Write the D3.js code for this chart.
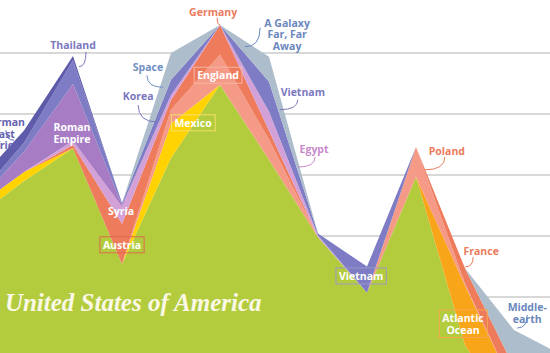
<!DOCTYPE html>
<html>
<head>
<meta charset="utf-8">
<script src="https://cdn.jsdelivr.net/npm/d3@7"></script>
<style>
  html, body { margin: 0; padding: 0; background: #fff; }
  svg { display: block; }
  .lbl { font-family: "Open Sans", sans-serif; font-weight: 700; font-size: 10.5px; }
</style>
</head>
<body>
<div id="chart"></div>
<script>
// sample points along the x axis (evenly spaced)
const steps = d3.range(13);

// layer values, bottom to top
const usa        = [33.0, 39.0, 44.4, 25.4, 42.8, 54.8, 42.5, 29.8, 20.7, 39.7, 12.1, 0, 0];
const mexico     = [1.6, 1.5, 0, 0, 5.6, 0, 0, 0, 0, 0, 0, 0, 0];
const atlantic   = [0, 0, 0, 0, 0, 0, 0, 0, 0, 0, 9.8, 4.9, 0];
const england    = [0, 0, 0, 0, 2.3, 4.9, 3.3, 0, 0, 4.9, 0.3, 0, 0];
const germany    = [0, 0, 0.5, 6.6, 1.6, 4.9, 1.5, 0, 0, 0, 2.5, 3.6, 1.5];
const egypt      = [0, 0, 0.7, 2.8, 0.8, 0, 3.1, 0.3, 0, 0, 0, 0, 0];
const roman      = [0.5, 3.3, 9.3, 0.3, 0, 0, 0, 0, 0, 0, 0, 0, 0];
const asia       = [0.8, 1.5, 3.9, 0.3, 2.5, 0, 4.9, 0.3, 4.3, 0, 0, 0, 0];
const eastAfrica = [2.5, 2.0, 0.7, 0, 0, 0, 0, 0, 0, 0, 0, 0, 0];
const fiction    = [0, 0, 0, 0, 4.4, 0, 4.1, 0, 0, 0, 0, 6.1, 8.9];

const layerKeys = ["usa", "mexico", "atlantic", "england", "germany", "egypt", "roman", "asia", "eastAfrica", "fiction"];
const layerColors = ["#b3cc3e", "#ffd200", "#f9a51a", "#f59a87", "#ee7b5b", "#d3a1d7", "#a77cc4", "#7d7cc4", "#5d5baa", "#adbdcb"];

const gridValues = [10, 20, 30, 40, 50, 60];

// annotations: text lines, x step, value, colour, optional box / leader
const labels = [
  { lines: ["Thailand"], x: 2.0, v: 60.7, color: "#7b78bf", leader: [13, 3, 6, 18] },
  { lines: ["German", "East", "Africa"], x: 0.59, v: 48.0, color: "#6462b0", leader: [2, 4, 10, 14] },
  { lines: ["Roman", "Empire"], x: 1.98, v: 47.2, color: "#ffffff" },
  { lines: ["Syria"], x: 2.98, v: 33.4, color: "#ffffff" },
  { lines: ["Austria"], x: 3.0, v: 27.9, color: "#ffffff", box: "#dc6a4c" },
  { lines: ["Space"], x: 3.53, v: 57.0, color: "#6f8fc2", leader: [-1, 4, 15, 16] },
  { lines: ["Korea"], x: 3.33, v: 52.3, color: "#7b78bf", leader: [0, 5, 19, 22] },
  { lines: ["Mexico"], x: 4.45, v: 47.9, color: "#ffffff", box: "#f6df6a" },
  { lines: ["England"], x: 4.96, v: 55.7, color: "#ffffff", box: "#f8b5a6" },
  { lines: ["Germany"], x: 4.86, v: 66.1, color: "#ec7a5c", leader: [4, 2, 7, 9] },
  { lines: ["A Galaxy", "Far, Far", "Away"], x: 6.37, v: 64.3, color: "#6b87bd", leader: [-27, 1, -42, 20] },
  { lines: ["Vietnam"], x: 6.69, v: 53.0, color: "#7b78bf", leader: [-5, 4, -23, 14] },
  { lines: ["Egypt"], x: 6.92, v: 43.6, color: "#c98ac9", leader: [1, 4, -16, 14] },
  { lines: ["Vietnam"], x: 7.88, v: 22.8, color: "#ffffff", box: "#9b99c4" },
  { lines: ["Poland"], x: 9.63, v: 43.3, color: "#ec7a5c", leader: [-2, 2, -22, 15] },
  { lines: ["France"], x: 10.33, v: 26.9, color: "#ec7a5c", leader: [-8, 2, -16, 12] },
  { lines: ["Atlantic", "Ocean"], x: 9.96, v: 15.9, color: "#ffffff", box: "#f6a84a" },
  { lines: ["Middle-", "earth"], x: 11.27, v: 17.7, color: "#6b87bd", leader: [0, 4, -10, 17] }
];
const bigLabel = { text: "United States of America", x: 0.61, v: 17.7 };

const width = 550, height = 353;

const svg = d3.select("#chart").append("svg")
  .attr("width", width)
  .attr("height", height);

const x = d3.scaleLinear().domain([0, 12]).range([-25, 563]);
const y = d3.scaleLinear().domain([0, 60]).range([419, 53]);

// 1. grid lines
svg.append("g").selectAll("line")
  .data(gridValues)
  .join("line")
  .attr("x1", 0).attr("x2", width)
  .attr("y1", d => y(d)).attr("y2", d => y(d))
  .attr("stroke", "#d8d8d8")
  .attr("stroke-width", 2);

// 2. stacked layers
const cols = [usa, mexico, atlantic, england, germany, egypt, roman, asia, eastAfrica, fiction];
const table = steps.map((s, i) => {
  const row = { step: s };
  layerKeys.forEach((k, j) => row[k] = cols[j][i]);
  return row;
});
const series = d3.stack().keys(layerKeys)(table);

const area = d3.area()
  .x(d => x(d.data.step))
  .y0(d => y(d[0]))
  .y1(d => y(d[1]));

svg.append("g").selectAll("path")
  .data(series)
  .join("path")
  .attr("fill", (d, i) => layerColors[i])
  .attr("d", area);

// 3. big label
svg.append("text")
  .attr("x", x(bigLabel.x))
  .attr("y", y(bigLabel.v))
  .attr("font-family", "'Liberation Serif', serif")
  .attr("font-style", "italic")
  .attr("font-weight", 700)
  .attr("font-size", 25)
  .attr("fill", "#fbf8e6")
  .text(bigLabel.text);

// 4. annotations
const lineH = 11.5;
const g = svg.append("g");
labels.forEach(l => {
  const cx = x(l.x), cy = y(l.v);
  const t = g.append("text")
    .attr("class", "lbl")
    .attr("text-anchor", "middle")
    .attr("fill", l.color);
  l.lines.forEach((s, i) => {
    t.append("tspan").attr("x", cx).attr("y", cy + i * lineH).text(s);
  });
  if (l.box) {
    const bb = t.node().getBBox();
    g.insert("rect", () => t.node())
      .attr("x", bb.x - 3).attr("y", bb.y - 1)
      .attr("width", bb.width + 6).attr("height", bb.height + 2)
      .attr("fill", "none")
      .attr("stroke", l.box)
      .attr("stroke-width", 1);
  }
  if (l.leader) {
    const [dx1, dy1, dx2, dy2] = l.leader;
    const x1 = cx + dx1, y1 = cy + dy1, x2 = cx + dx2, y2 = cy + dy2;
    g.append("path")
      .attr("d", `M${x1},${y1} Q${x1},${y2} ${x2},${y2}`)
      .attr("fill", "none")
      .attr("stroke", l.color)
      .attr("stroke-width", 1);
  }
});
</script>
</body>
</html>
